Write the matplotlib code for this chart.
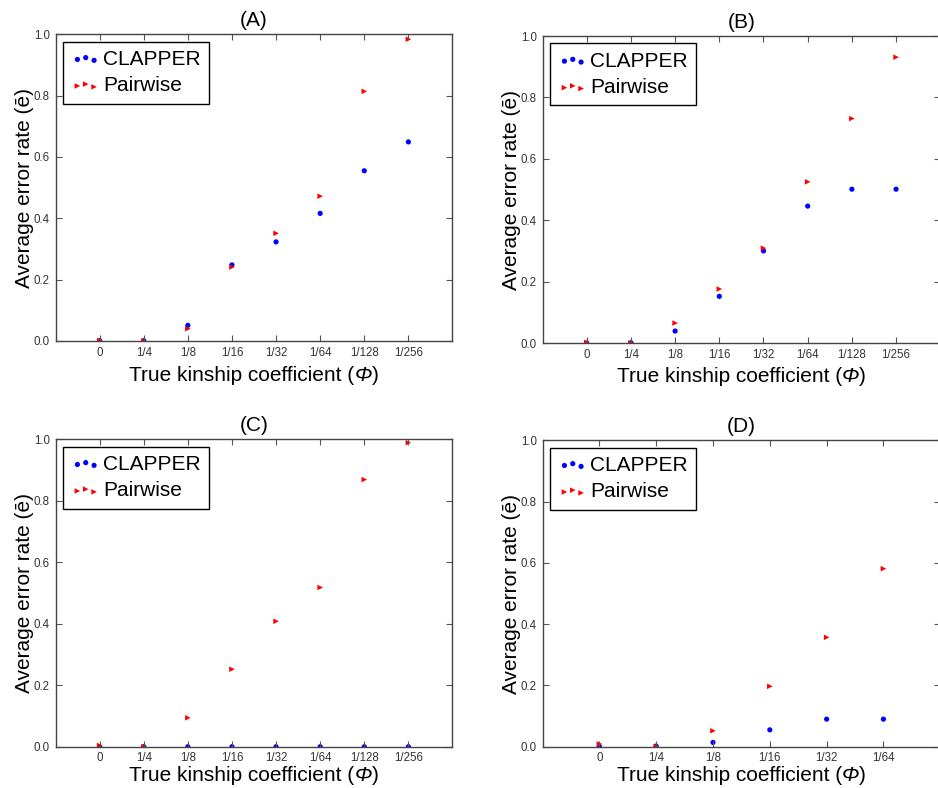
import matplotlib
matplotlib.use('Agg')
import matplotlib.pyplot as plt
from matplotlib.offsetbox import TextArea, HPacker, AnchoredOffsetbox

plt.rcParams['font.family'] = ['Liberation Sans', 'DejaVu Sans']

# kinship coefficient categories
kinship_8 = ['0', '1/4', '1/8', '1/16', '1/32', '1/64', '1/128', '1/256']
kinship_6 = ['0', '1/4', '1/8', '1/16', '1/32', '1/64']

# panel A
clapper_a = [0.001, 0.001, 0.051, 0.248, 0.323, 0.416, 0.555, 0.649]
pairwise_a = [0.001, 0.0, 0.040, 0.241, 0.351, 0.472, 0.814, 0.984]

# panel B
clapper_b = [0.0, 0.001, 0.039, 0.152, 0.300, 0.446, 0.501, 0.501]
pairwise_b = [0.002, 0.0, 0.065, 0.176, 0.309, 0.525, 0.731, 0.931]

# panel C
clapper_c = [0.0, 0.0, 0.0, 0.0, 0.0, 0.0, 0.0, 0.0]
pairwise_c = [0.004, 0.0, 0.094, 0.252, 0.408, 0.518, 0.869, 0.989]

# panel D
clapper_d = [0.001, 0.002, 0.014, 0.055, 0.090, 0.090]
pairwise_d = [0.009, 0.001, 0.052, 0.197, 0.357, 0.581]

# title, categories, clapper, pairwise, axes rect, xlabel y offset (axes fraction)
panels = [
    ('(A)', kinship_8, clapper_a, pairwise_a, [0.0592, 0.5673, 0.4232, 0.3892], -0.114),
    ('(B)', kinship_8, clapper_b, pairwise_b, [0.5784, 0.5647, 0.4240, 0.3896], -0.110),
    ('(C)', kinship_8, clapper_c, pairwise_c, [0.0592, 0.0524, 0.4232, 0.3901], -0.093),
    ('(D)', kinship_6, clapper_d, pairwise_d, [0.5784, 0.0524, 0.4240, 0.3888], -0.093),
]

fig = plt.figure(figsize=(9.38, 7.88), dpi=100)

for title, labels, clapper, pairwise, rect, xl_y in panels:
    ax = fig.add_axes(rect)
    x = list(range(len(labels)))
    ax.scatter(x, clapper, s=14, c='blue', marker='o', edgecolors='none', label='CLAPPER')
    ax.scatter(x, pairwise, s=16, c='red', marker='>', edgecolors='none', label='Pairwise')
    ax.set_xlim(-1, len(labels))
    ax.set_ylim(0, 1.0)
    ax.set_xticks(x)
    ax.set_xticklabels(labels)
    ax.set_yticks([0.0, 0.2, 0.4, 0.6, 0.8, 1.0])
    ax.set_yticklabels(['0.0', '0.2', '0.4', '0.6', '0.8', '1.0'])
    ax.tick_params(direction='in', top=True, right=True, labelsize=8.3,
                   labelcolor='#333333', color='#555555', length=4, pad=4)
    for sp in ax.spines.values():
        sp.set_color('#444444')
        sp.set_linewidth(1.0)
    ax.set_title(title, fontsize=15, pad=6)
    ax.set_ylabel('Average error rate (\u0113)', fontsize=15, labelpad=0)

    # x label with an italic phi
    tp = dict(fontsize=15, color='black')
    parts = [TextArea('True kinship coefficient (', textprops=tp),
             TextArea('\u03a6', textprops=dict(tp, fontstyle='italic')),
             TextArea(')', textprops=tp)]
    box = HPacker(children=parts, align='baseline', pad=0, sep=0)
    anchored = AnchoredOffsetbox(loc='center', child=box, pad=0, borderpad=0,
                                 frameon=False, bbox_to_anchor=(0.5, xl_y),
                                 bbox_transform=ax.transAxes)
    ax.add_artist(anchored)

    leg = ax.legend(loc='upper left', fontsize=15, scatterpoints=3,
                    scatteryoffsets=[0.375, 0.5, 0.3125], fancybox=False,
                    handlelength=1.4, handletextpad=0.12, borderaxespad=0.35,
                    labelspacing=0.36, borderpad=0.4, framealpha=1)
    leg.get_frame().set_edgecolor('black')
    leg.get_frame().set_linewidth(1.0)

fig.savefig('out.png', dpi=100)
